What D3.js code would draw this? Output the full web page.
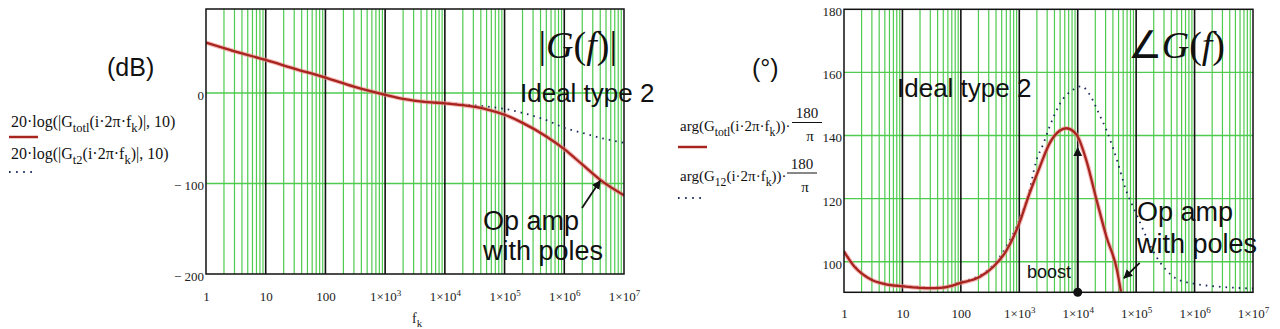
<!DOCTYPE html>
<html>
<head>
<meta charset="utf-8">
<script src="https://cdn.jsdelivr.net/npm/d3@7"></script>
<style>
  body { margin: 0; background: #fff; }
  svg { display: block; }
  .serif { font-family: "Liberation Serif", "Times New Roman", serif; }
  .sans { font-family: "Liberation Sans", Arial, sans-serif; }
</style>
</head>
<body>
<svg id="chart" width="1280" height="329"></svg>
<script>
// ---- data ----
var decades = [1, 10, 100, 1e3, 1e4, 1e5, 1e6, 1e7];
var xTickBase = ["1", "10", "100", "1×10", "1×10", "1×10", "1×10", "1×10"];
var xTickExp = ["", "", "", "3", "4", "5", "6", "7"];

// magnitude (dB)
var magFreq = [1, 3, 10, 30, 100, 300, 1e3, 2e3, 5e3, 1e4, 2e4, 5e4, 1e5, 2e5, 5e5, 1e6, 2e6, 4e6, 1e7];
var magTotal = [55.6, 46, 36.5, 27, 17, 7, -2, -6.5, -10, -11.4, -13.5, -18, -24, -33, -48, -62, -79, -96, -113];
var magIdeal = [55.6, 46, 36.5, 27, 17, 7, -2, -6.5, -9.8, -11, -12.5, -15, -17.5, -22, -30, -38.5, -44, -49.5, -55];
var magTicks = [0, -100, -200];
var magTickLabels = ["0", "\u2212 100", "\u2212 200"];
var magDomain = [-200, 92.8];

// phase (degrees)
var phaseFreq = [1, 1.5, 2, 3, 5, 10, 20, 30, 50, 97, 212, 360, 610, 1e3, 1.5e3, 2.25e3, 3.3e3, 4.9e3, 6.4e3, 9.6e3, 1.4e4, 2.1e4, 3.1e4, 4.7e4, 5.5e4];
var phaseTotal = [103.2, 98.5, 96.3, 94.2, 92.9, 92.2, 91.7, 91.6, 91.8, 93.2, 95.2, 98.4, 103.7, 112.2, 121.7, 130.1, 137.5, 141.5, 142.3, 140.2, 132.2, 119.6, 107.9, 97.4, 90.5];
var phaseIdealFreq = [1, 1.5, 2, 3, 5, 10, 20, 30, 50, 97, 212, 360, 610, 1e3, 1.5e3, 1.9e3, 2.6e3, 3.3e3, 4.1e3, 5e3, 8e3, 1.15e4, 1.6e4, 2.3e4, 3.1e4, 4.7e4, 6.7e4, 1e5, 2e5, 5e5, 1e6, 3e6, 1e7];
var phaseIdeal = [103.4, 98.7, 96.5, 94.4, 93.1, 92.4, 91.9, 91.8, 92, 93.5, 95.7, 99, 105, 113.2, 122.7, 131.2, 137.5, 142.8, 147, 150.2, 154.3, 155.6, 153, 147, 141.7, 132.2, 122.7, 115.3, 103, 94.5, 93, 92, 91.5];
var phaseTicks = [100, 120, 140, 160, 180];
var phaseTickLabels = ["100", "120", "140", "160", "180"];
var phaseDomain = [90.3, 180];

var boostFreq = 1e4, boostTop = 136;

var magLegend = [
  [{t: "20·log(|G"}, {t: "totl", sub: 1}, {t: "(i·2π·f"}, {t: "k", sub: 1}, {t: ")|, 10)"}],
  [{t: "20·log(|G"}, {t: "t2", sub: 1}, {t: "(i·2π·f"}, {t: "k", sub: 1}, {t: ")|, 10)"}]
];
var phaseLegend = [
  [{t: "arg(G"}, {t: "totl", sub: 1}, {t: "(i·2π·f"}, {t: "k", sub: 1}, {t: "))·"}],
  [{t: "arg(G"}, {t: "12", sub: 1}, {t: "(i·2π·f"}, {t: "k", sub: 1}, {t: "))·"}]
];

// ---- drawing ----
var svg = d3.select("#chart");
var RED = "#a8251f", HALO = "#f08a8a", DOT = "#1d2b5c", GREEN = "#4fcb4f";

var defs = svg.append("defs");
defs.append("marker")
    .attr("id", "head")
    .attr("viewBox", "0 0 10 10")
    .attr("refX", 9).attr("refY", 5)
    .attr("markerWidth", 9).attr("markerHeight", 9)
    .attr("markerUnits", "userSpaceOnUse")
    .attr("orient", "auto")
  .append("path")
    .attr("d", "M0,0 L10,5 L0,10 z")
    .attr("fill", "#111");

function rich(g, x, y, parts, size) {
  var t = g.append("text").attr("class", "serif").attr("x", x).attr("y", y)
      .style("font-size", size + "px").attr("fill", "#111");
  var shift = 0;
  parts.forEach(function(p) {
    var want = p.sub ? size * 0.32 : 0;
    t.append("tspan").attr("dy", want - shift)
      .style("font-size", p.sub ? (size * 0.78) + "px" : null)
      .text(p.t);
    shift = want;
  });
  return t;
}

var minors = [];
for (var d = 0; d < 7; d++) {
  for (var k = 2; k <= 9; k++) minors.push(k * Math.pow(10, d));
}

function panel(o) {
  var x = d3.scaleLog().domain([1, 1e7]).range([o.x0, o.x1]);
  var y = d3.scaleLinear().domain(o.yDomain).range([o.y1, o.y0]);
  var g = svg.append("g");

  g.selectAll("line.minor").data(minors).enter().append("line")
      .attr("x1", d => x(d)).attr("x2", d => x(d))
      .attr("y1", o.y0).attr("y2", o.y1)
      .attr("stroke", GREEN).attr("stroke-width", 1.2);

  g.selectAll("line.hgrid").data(o.ticks.filter(t => t > o.yDomain[0] && t < o.yDomain[1])).enter().append("line")
      .attr("x1", o.x0).attr("x2", o.x1)
      .attr("y1", d => y(d)).attr("y2", d => y(d))
      .attr("stroke", GREEN).attr("stroke-width", 1.4);

  g.selectAll("line.decade").data(decades.slice(1, -1)).enter().append("line")
      .attr("x1", d => x(d)).attr("x2", d => x(d))
      .attr("y1", o.y0).attr("y2", o.y1)
      .attr("stroke", "#111").attr("stroke-width", 1.6);

  defs.append("clipPath").attr("id", o.id + "clip")
    .append("rect").attr("x", o.x0).attr("y", o.y0)
    .attr("width", o.x1 - o.x0).attr("height", o.y1 - o.y0);

  var cg = g.append("g").attr("clip-path", "url(#" + o.id + "clip)");
  var line = d3.line().curve(d3.curveMonotoneX)
      .x(d => x(d[0])).y(d => y(d[1]));

  var ideal = d3.zip(o.idealFreq, o.ideal);
  var total = d3.zip(o.totalFreq, o.total);

  cg.append("path").datum(ideal).attr("d", line)
      .attr("fill", "none").attr("stroke", DOT)
      .attr("stroke-width", 1.8).attr("stroke-dasharray", "1.6,5");
  cg.append("path").datum(total).attr("d", line)
      .attr("fill", "none").attr("stroke", HALO).attr("stroke-opacity", 0.6)
      .attr("stroke-width", 4.5);
  cg.append("path").datum(total).attr("d", line)
      .attr("fill", "none").attr("stroke", RED).attr("stroke-width", 2.3);

  g.append("rect").attr("x", o.x0).attr("y", o.y0)
      .attr("width", o.x1 - o.x0).attr("height", o.y1 - o.y0)
      .attr("fill", "none").attr("stroke", "#111").attr("stroke-width", 1.5);

  var ya = g.append("g").attr("transform", "translate(" + o.x0 + ",0)")
      .call(d3.axisLeft(y).tickValues(o.ticks).tickSize(0).tickPadding(2)
        .tickFormat((d, i) => o.tickLabels[i]));
  ya.select(".domain").remove();
  ya.attr("font-family", null).attr("font-size", null);
  ya.selectAll("text").attr("class", "serif").style("font-size", "13px")
      .attr("fill", "#222").attr("dy", "0.5em");

  var xa = g.append("g").attr("transform", "translate(0," + o.y1 + ")")
      .call(d3.axisBottom(x).tickValues(decades).tickSize(0).tickPadding(o.xPad)
        .tickFormat(() => ""));
  xa.select(".domain").remove();
  xa.attr("font-family", null).attr("font-size", null);
  xa.selectAll(".tick text").each(function(d, i) {
    var t = d3.select(this).attr("class", "serif").style("font-size", "13px").attr("fill", "#222");
    t.append("tspan").text(xTickBase[i]);
    if (xTickExp[i]) t.append("tspan").attr("dy", "-0.55em").style("font-size", "9px").text(xTickExp[i]);
  });

  return {g: g, x: x, y: y};
}

// ---- magnitude panel ----
var m = panel({
  id: "mag", x0: 206, x1: 624, y0: 9, y1: 274, xPad: 18,
  yDomain: magDomain, ticks: magTicks, tickLabels: magTickLabels,
  totalFreq: magFreq, total: magTotal, idealFreq: magFreq, ideal: magIdeal
});

m.g.append("text").attr("class", "serif").attr("x", 412).attr("y", 323)
    .style("font-size", "14px").attr("fill", "#222")
    .text("f").append("tspan").attr("dy", 4).style("font-size", "11px").text("k");

m.g.append("text").attr("class", "serif").attr("x", 617).attr("y", 58)
    .attr("text-anchor", "end").style("font-size", "38px").attr("fill", "#111")
    .html('|<tspan font-style="italic">G</tspan>(<tspan font-style="italic">f</tspan>)|');

m.g.append("text").attr("class", "sans").attr("x", 520).attr("y", 102)
    .style("font-size", "26px").attr("fill", "#111").text("Ideal type 2");
m.g.append("text").attr("class", "sans").attr("x", 483).attr("y", 230)
    .style("font-size", "27px").attr("fill", "#111").text("Op amp");
m.g.append("text").attr("class", "sans").attr("x", 483).attr("y", 260)
    .style("font-size", "27px").attr("fill", "#111").text("with poles");

m.g.append("line")
    .attr("x1", m.x(1.98e6)).attr("y1", m.y(-127))
    .attr("x2", m.x(3.98e6)).attr("y2", m.y(-97))
    .attr("stroke", "#111").attr("stroke-width", 1.8).attr("marker-end", "url(#head)");

svg.append("text").attr("class", "sans").attr("x", 107).attr("y", 76)
    .style("font-size", "25px").attr("fill", "#111").text("(dB)");

rich(svg, 11, 127, magLegend[0], 16);
rich(svg, 11, 159, magLegend[1], 16);
svg.append("line").attr("x1", 9).attr("x2", 38).attr("y1", 137).attr("y2", 137)
    .attr("stroke", RED).attr("stroke-width", 2.5);
svg.append("line").attr("x1", 9).attr("x2", 34).attr("y1", 172).attr("y2", 172)
    .attr("stroke", DOT).attr("stroke-width", 1.8).attr("stroke-dasharray", "1.6,5.5");

// ---- phase panel ----
var p = panel({
  id: "ph", x0: 844, x1: 1253, y0: 9.3, y1: 292.3, xPad: 16,
  yDomain: phaseDomain, ticks: phaseTicks, tickLabels: phaseTickLabels,
  totalFreq: phaseFreq, total: phaseTotal, idealFreq: phaseIdealFreq, ideal: phaseIdeal
});

p.g.append("text").attr("class", "serif").attr("x", 1225).attr("y", 58)
    .attr("text-anchor", "end").style("font-size", "38px").attr("fill", "#111")
    .html('\u2220<tspan font-style="italic">G</tspan>(<tspan font-style="italic">f</tspan>)');

p.g.append("text").attr("class", "sans").attr("x", 897).attr("y", 97)
    .style("font-size", "26px").attr("fill", "#111").text("Ideal type 2");
p.g.append("text").attr("class", "sans").attr("x", 1137).attr("y", 221)
    .style("font-size", "27px").attr("fill", "#111").text("Op amp");
p.g.append("text").attr("class", "sans").attr("x", 1137).attr("y", 253)
    .style("font-size", "27px").attr("fill", "#111").text("with poles");
p.g.append("text").attr("class", "sans").attr("x", 1027).attr("y", 278)
    .style("font-size", "18px").attr("fill", "#111").text("boost");

p.g.append("line")
    .attr("x1", p.x(boostFreq)).attr("y1", p.y(phaseDomain[0]))
    .attr("x2", p.x(boostFreq)).attr("y2", p.y(boostTop))
    .attr("stroke", "#111").attr("stroke-width", 1.8).attr("marker-end", "url(#head)");
p.g.append("circle").attr("cx", p.x(boostFreq)).attr("cy", p.y(phaseDomain[0]))
    .attr("r", 4.5).attr("fill", "#111");

p.g.append("line")
    .attr("x1", p.x(1.15e5)).attr("y1", p.y(99.6))
    .attr("x2", p.x(6.2e4)).attr("y2", p.y(94.8))
    .attr("stroke", "#111").attr("stroke-width", 1.8).attr("marker-end", "url(#head)");

svg.append("text").attr("class", "sans").attr("x", 752).attr("y", 77)
    .style("font-size", "25px").attr("fill", "#111").text("(°)");

rich(svg, 680, 131, phaseLegend[0], 15);
rich(svg, 680, 181, phaseLegend[1], 15);

// fractions 180/π
[[807, 113, 122.5, 137], [802, 163.5, 173, 188]].forEach(function(f) {
  svg.append("text").attr("class", "serif").attr("x", f[0]).attr("y", f[1] + 5)
      .attr("text-anchor", "middle").style("font-size", "15px").attr("fill", "#111").text("180");
  svg.append("line").attr("x1", f[0] - 15).attr("x2", f[0] + 15)
      .attr("y1", f[2]).attr("y2", f[2]).attr("stroke", "#111").attr("stroke-width", 1);
  svg.append("text").attr("class", "serif").attr("x", f[0] + 3).attr("y", f[3] + 4)
      .attr("text-anchor", "middle").style("font-size", "15px").attr("fill", "#111").text("π");
});

svg.append("line").attr("x1", 678).attr("x2", 707).attr("y1", 147).attr("y2", 147)
    .attr("stroke", RED).attr("stroke-width", 2.5);
svg.append("line").attr("x1", 678).attr("x2", 702).attr("y1", 198).attr("y2", 198)
    .attr("stroke", DOT).attr("stroke-width", 1.8).attr("stroke-dasharray", "1.6,5.5");
</script>
</body>
</html>
